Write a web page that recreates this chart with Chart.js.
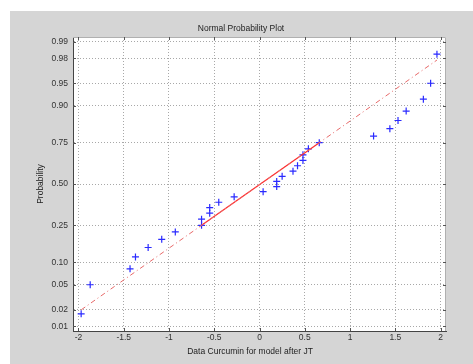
<!DOCTYPE html>
<html>
<head>
<meta charset="utf-8">
<script src="https://cdn.jsdelivr.net/npm/chart.js@4"></script>
<style>
  html, body { margin: 0; padding: 0; background: #fff; }
  .frame { position: absolute; left: 10px; top: 11px; width: 463px; height: 353px; background: #d5d5d5; }
</style>
</head>
<body>
<div class="frame"><canvas id="chart"></canvas></div>
<script>
// data
const curcumin = [-1.97, -1.87, -1.43, -1.37, -1.23, -1.08, -0.93, -0.64, -0.64, -0.55,
  -0.55, -0.45, -0.28, 0.04, 0.19, 0.19, 0.25, 0.37, 0.42, 0.48,
  0.48, 0.54, 0.66, 1.26, 1.44, 1.53, 1.62, 1.81, 1.89, 1.96];
const probability = [0.017, 0.05, 0.083, 0.117, 0.15, 0.183, 0.217, 0.25, 0.283, 0.317,
  0.35, 0.383, 0.417, 0.45, 0.483, 0.517, 0.55, 0.583, 0.617, 0.65,
  0.683, 0.717, 0.75, 0.783, 0.817, 0.85, 0.883, 0.917, 0.95, 0.983];
const fitX = [-0.64, 0.66];
const fitP = [0.25, 0.75];
const probTicks = [0.01, 0.02, 0.05, 0.10, 0.25, 0.50, 0.75, 0.90, 0.95, 0.98, 0.99];
const probLabels = ["0.01", "0.02", "0.05", "0.10", "0.25", "0.50", "0.75", "0.90", "0.95", "0.98", "0.99"];
const xTicks = [-2, -1.5, -1, -0.5, 0, 0.5, 1, 1.5, 2];
const xLabels = ["-2", "-1.5", "-1", "-0.5", "0", "0.5", "1", "1.5", "2"];

// inverse normal cdf (probability paper)
function norminv(p) {
  const a = [-39.69683028665376, 220.9460984245205, -275.9285104469687, 138.3577518672690, -30.66479806614716, 2.506628277459239];
  const b = [-54.47609879822406, 161.5858368580409, -155.6989798598866, 66.80131188771972, -13.28068155288572];
  const c = [-0.007784894002430293, -0.3223964580411365, -2.400758277161838, -2.549732539343734, 4.374664141464968, 2.938163982698783];
  const d = [0.007784695709041462, 0.3224671290700398, 2.445134137142996, 3.754408661907416];
  const pl = 0.02425;
  let q, r;
  if (p < pl) {
    q = Math.sqrt(-2 * Math.log(p));
    return (((((c[0]*q+c[1])*q+c[2])*q+c[3])*q+c[4])*q+c[5]) / ((((d[0]*q+d[1])*q+d[2])*q+d[3])*q+1);
  }
  if (p > 1 - pl) {
    q = Math.sqrt(-2 * Math.log(1 - p));
    return -(((((c[0]*q+c[1])*q+c[2])*q+c[3])*q+c[4])*q+c[5]) / ((((d[0]*q+d[1])*q+d[2])*q+d[3])*q+1);
  }
  q = p - 0.5; r = q * q;
  return (((((a[0]*r+a[1])*r+a[2])*r+a[3])*r+a[4])*r+a[5])*q / (((((b[0]*r+b[1])*r+b[2])*r+b[3])*r+b[4])*r+1);
}

const points = curcumin.map((x, i) => ({ x: x, y: norminv(probability[i]) }));
const fitLine = fitX.map((x, i) => ({ x: x, y: norminv(fitP[i]) }));
// reference line extended over the data range
const slope = (fitLine[1].y - fitLine[0].y) / (fitLine[1].x - fitLine[0].x);
const xmin = curcumin[0], xmax = curcumin[curcumin.length - 1];
const refLine = [
  { x: xmin, y: fitLine[0].y + (xmin - fitLine[0].x) * slope },
  { x: xmax, y: fitLine[0].y + (xmax - fitLine[0].x) * slope },
];

const font = { family: "'Liberation Sans', Arial, sans-serif", size: 8.5, weight: "normal" };

// white axes box, light top/right edges, inward ticks
const axesBox = {
  id: "axesBox",
  beforeDraw(chart) {
    const { ctx, chartArea: a } = chart;
    ctx.save();
    ctx.fillStyle = "#fff";
    ctx.fillRect(a.left, a.top, a.right - a.left, a.bottom - a.top);
    ctx.restore();
  },
  afterDatasetsDraw(chart) {
    const { ctx, chartArea: a, scales } = chart;
    ctx.save();
    ctx.strokeStyle = "#b0b0b0";
    ctx.lineWidth = 1;
    ctx.beginPath();
    ctx.moveTo(a.left, a.top + 0.5); ctx.lineTo(a.right - 0.5, a.top + 0.5); ctx.lineTo(a.right - 0.5, a.bottom);
    ctx.stroke();
    ctx.strokeStyle = "#555";
    ctx.beginPath();
    scales.x.ticks.forEach(t => {
      const px = Math.round(scales.x.getPixelForValue(t.value)) + 0.5;
      ctx.moveTo(px, a.bottom); ctx.lineTo(px, a.bottom - 3);
      ctx.moveTo(px, a.top); ctx.lineTo(px, a.top + 3);
    });
    scales.y.ticks.forEach(t => {
      const py = Math.round(scales.y.getPixelForValue(t.value)) + 0.5;
      ctx.moveTo(a.left, py); ctx.lineTo(a.left + 3, py);
      ctx.moveTo(a.right, py); ctx.lineTo(a.right - 3, py);
    });
    ctx.stroke();
    ctx.restore();
  },
};

new Chart(document.getElementById("chart"), {
  type: "scatter",
  data: {
    datasets: [
      {
        label: "reference",
        data: refLine,
        showLine: true,
        borderColor: "#e86a6a",
        borderWidth: 1,
        borderDash: [5, 3, 1, 3],
        pointRadius: 0,
      },
      {
        label: "fit",
        data: fitLine,
        showLine: true,
        borderColor: "#ff2a2a",
        borderWidth: 1.2,
        pointRadius: 0,
      },
      {
        label: "data",
        data: points,
        pointStyle: "cross",
        pointRadius: 3.5,
        borderColor: "#2a2aff",
        backgroundColor: "#2a2aff",
        borderWidth: 1.2,
      },
    ],
  },
  options: {
    responsive: true,
    maintainAspectRatio: false,
    animation: false,
    layout: { padding: { left: 26, right: 27, top: 0, bottom: 0 } },
    plugins: {
      legend: { display: false },
      tooltip: { enabled: false },
      title: {
        display: true,
        text: "Normal Probability Plot",
        color: "#222",
        font: font,
        padding: { top: 12.9, bottom: 2.9 },
      },
    },
    scales: {
      x: {
        type: "linear",
        min: -2.06,
        max: 2.06,
        afterBuildTicks: (scale) => { scale.ticks = xTicks.map(v => ({ value: v })); },
        afterFit: (scale) => { scale.height = 33; },
        ticks: {
          color: "#333",
          font: font,
          padding: 2,
          maxRotation: 0,
          callback: (value, index) => xLabels[index],
        },
        grid: { color: "#a8a8a8", drawTicks: false },
        border: { display: true, color: "#444", width: 1, dash: [1, 2] },
        title: {
          display: true,
          text: "Data Curcumin for model after JT        ",
          color: "#222",
          font: font,
          padding: { top: 0, bottom: 6.9 },
        },
      },
      y: {
        type: "linear",
        min: -2.4,
        max: 2.4,
        afterBuildTicks: (scale) => { scale.ticks = probTicks.map(p => ({ value: norminv(p) })); },
        afterFit: (scale) => { scale.width = 37; },
        ticks: {
          color: "#333",
          font: font,
          padding: 5,
          callback: (value, index) => probLabels[index],
        },
        grid: { color: "#a8a8a8", drawTicks: false },
        border: { display: true, color: "#444", width: 1, dash: [1, 2] },
        title: {
          display: true,
          text: "Probability",
          color: "#222",
          font: font,
          padding: { top: 0, bottom: 0 },
        },
      },
    },
  },
  plugins: [axesBox],
});
</script>
</body>
</html>
